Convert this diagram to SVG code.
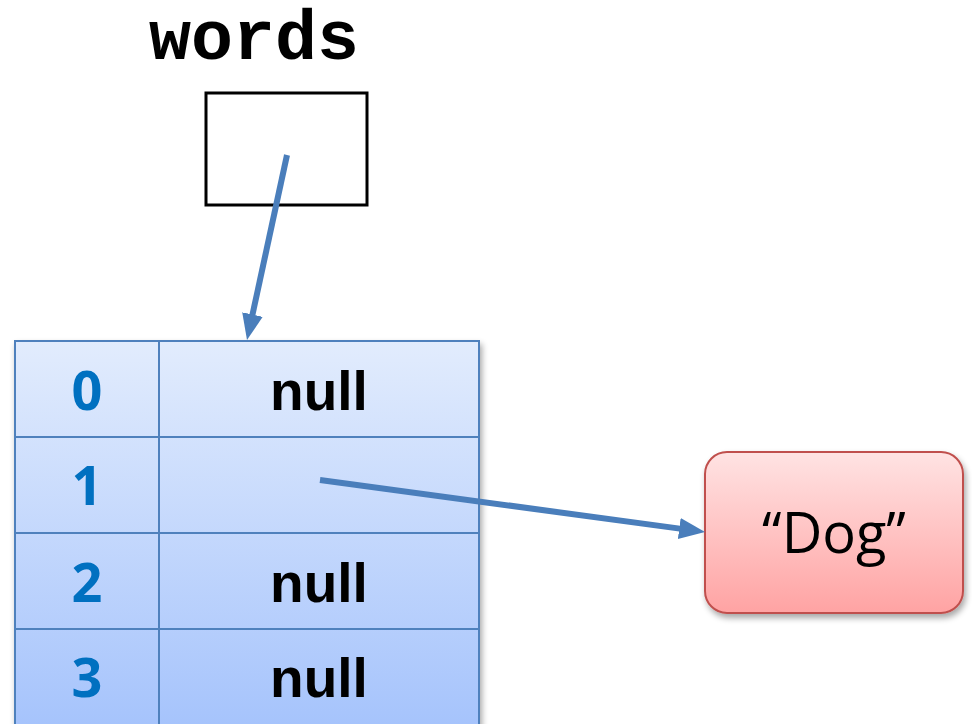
<svg xmlns="http://www.w3.org/2000/svg" width="972" height="724" viewBox="0 0 972 724">
<defs>
<linearGradient id="tblGrad" x1="0" y1="0" x2="0" y2="1">
<stop offset="0" stop-color="#e2ecfd"/>
<stop offset="1" stop-color="#a5c3fc"/>
</linearGradient>
<linearGradient id="dogGrad" x1="0" y1="0" x2="0" y2="1">
<stop offset="0" stop-color="#ffe3e3"/>
<stop offset="1" stop-color="#ffa3a3"/>
</linearGradient>
<filter id="shadow" x="-10%" y="-10%" width="125%" height="130%">
<feGaussianBlur in="SourceAlpha" stdDeviation="3"/>
<feOffset dx="2" dy="4" result="b"/>
<feComponentTransfer><feFuncA type="linear" slope="0.35"/></feComponentTransfer>
<feMerge><feMergeNode/><feMergeNode in="SourceGraphic"/></feMerge>
</filter>
<marker id="arrow" markerUnits="userSpaceOnUse" markerWidth="28" markerHeight="24" refX="8" refY="10.5" orient="auto">
<path d="M0,0 L26,10.5 L0,21 z" fill="#4a7ebb"/>
</marker>
<style>
.idx{font-family:"Open Sans","Liberation Sans",sans-serif;font-weight:bold;font-size:54px;fill:#0070c0;text-anchor:middle}
.val{font-family:"Liberation Sans",Arial,sans-serif;font-weight:bold;font-size:55px;fill:#000;text-anchor:middle}
.grid{stroke:#4f81bd;stroke-width:2;fill:none}
.conn{stroke:#4a7ebb;stroke-width:6;fill:none;marker-end:url(#arrow)}
</style>
</defs>
<rect width="972" height="724" fill="#fff"/>
<g id="words">
<text x="254" y="59" font-family="'Liberation Mono','Courier New',monospace" font-weight="bold" font-size="70" text-anchor="middle" fill="#000">words</text>
<rect x="206" y="93" width="161" height="112" fill="#fff" stroke="#000" stroke-width="3"/>
</g>
<g id="array" filter="url(#shadow)">
<rect x="15" y="341" width="464" height="390" fill="url(#tblGrad)" stroke="#4f81bd" stroke-width="2"/>
<line class="grid" x1="159" y1="341" x2="159" y2="731"/>
<line class="grid" x1="15" y1="437" x2="479" y2="437"/>
<line class="grid" x1="15" y1="533" x2="479" y2="533"/>
<line class="grid" x1="15" y1="629" x2="479" y2="629"/>
</g>
<g id="cells">
<text class="idx" x="87" y="410">0</text>
<text class="val" x="319" y="410">null</text>
<text class="idx" x="87" y="505">1</text>
<text class="idx" x="87" y="602">2</text>
<text class="val" x="319" y="602">null</text>
<text class="idx" x="87" y="697">3</text>
<text class="val" x="319" y="697">null</text>
</g>
<g id="dog">
<rect x="705" y="452" width="258" height="161" rx="22" ry="22" fill="url(#dogGrad)" stroke="#c0504d" stroke-width="2" filter="url(#shadow)"/>
<text x="834" y="553" font-family="'Open Sans','Liberation Sans',sans-serif" font-size="56" text-anchor="middle" fill="#000">“Dog”</text>
</g>
<g id="connectors">
<line class="conn" x1="287" y1="155" x2="250.8" y2="322.4"/>
<line class="conn" x1="320" y1="480" x2="687.2" y2="529.6"/>
</g>
</svg>
